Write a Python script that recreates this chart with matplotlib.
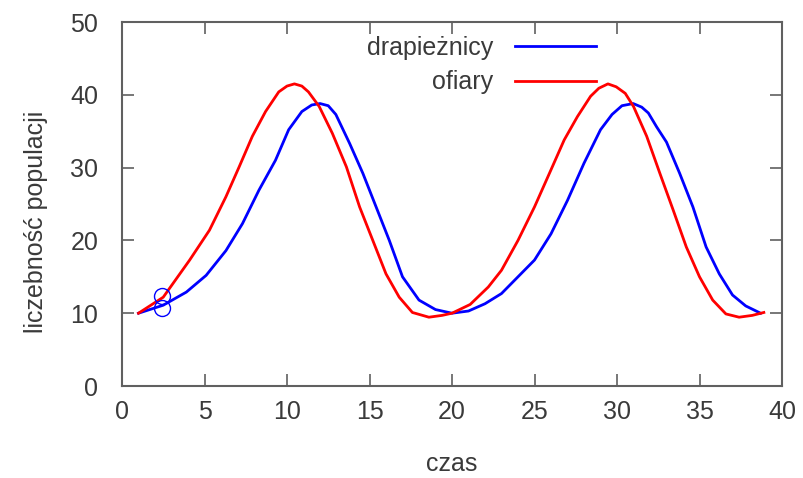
"""Predator-prey population curves (gnuplot-style look)."""

import matplotlib

matplotlib.use("Agg")
import matplotlib.pyplot as plt

# prey (ofiary)
t_prey = [1.0, 2.5, 4.1, 5.3, 6.3, 7.1, 7.9, 8.7, 9.5, 10.0, 10.45, 10.9, 11.3,
          11.95, 12.75, 13.6, 14.4, 15.2, 16.0, 16.8, 17.6, 18.6, 19.4, 20.0,
          21.1, 22.2, 23.0, 24.0, 25.0, 26.0, 26.8, 27.6, 28.4, 28.9, 29.45,
          29.95, 30.5, 31.0, 31.8, 32.6, 33.4, 34.2, 35.0, 35.8, 36.6, 37.4,
          38.2, 38.9]
prey = [10.0, 12.2, 17.3, 21.4, 26.0, 30.1, 34.3, 37.7, 40.4, 41.2, 41.5, 41.2, 40.4,
        38.4, 34.7, 30.1, 24.6, 20.0, 15.4, 12.2, 10.1, 9.45, 9.7, 10.0,
        11.2, 13.6, 15.9, 20.0, 24.6, 29.7, 33.8, 37.0, 39.8, 40.9, 41.5,
        41.1, 40.2, 38.4, 34.3, 29.2, 24.2, 19.1, 15.0, 11.8, 9.9, 9.45,
        9.7, 10.1]

# predators (drapieznicy)
t_pred = [1.0, 2.5, 3.9, 5.1, 6.3, 7.3, 8.3, 9.3, 10.1, 10.9, 11.5, 12.0, 12.5,
          12.96, 13.8, 14.6, 15.4, 16.2, 17.0, 18.0, 19.0, 20.0, 21.0, 22.0,
          23.0, 24.0, 25.0, 26.0, 27.0, 28.0, 29.0, 29.7, 30.3, 30.98, 31.5,
          31.9, 32.4, 33.0, 33.8, 34.6, 35.4, 36.2, 37.0, 37.8, 38.7]
pred = [10.0, 11.1, 12.9, 15.2, 18.6, 22.3, 26.9, 31.0, 35.2, 37.7, 38.6, 38.8, 38.5,
        37.3, 33.3, 29.2, 24.6, 20.0, 15.0, 11.8, 10.5, 10.0, 10.3, 11.3,
        12.7, 15.0, 17.3, 20.9, 25.5, 30.6, 35.2, 37.3, 38.5, 38.8, 38.3,
        37.5, 35.6, 33.5, 29.2, 24.6, 19.1, 15.4, 12.5, 11.0, 10.0]

# two marked points near the start
mark_t = [2.45, 2.45]
mark_v = [12.3, 10.7]

TEXT = "#3a3a3a"
FRAME = "#606060"

plt.rcParams["font.family"] = ["Liberation Sans", "DejaVu Sans"]
plt.rcParams["font.size"] = 18

fig = plt.figure(figsize=(8.04, 4.78), dpi=100)
ax = fig.add_axes([122 / 804, 1 - 386 / 478, 660 / 804, 364 / 478])

ax.plot(t_pred, pred, color="#0000ff", lw=2.0, label="drapieżnicy")
ax.plot(t_prey, prey, color="#ff0000", lw=2.0, label="ofiary")
ax.plot(mark_t, mark_v, ls="none", marker="o", ms=11.5, mfc="none",
        mec="#0000ff", mew=1.0)

ax.set_xlim(0, 40)
ax.set_ylim(0, 50)
ax.set_xticks(range(0, 41, 5))
ax.set_yticks(range(0, 51, 10))
ax.tick_params(direction="in", length=8.5, width=1.2, color=FRAME,
               top=True, right=True, labelcolor=TEXT, labelsize=18)
ax.tick_params(axis="y", pad=17)
ax.tick_params(axis="x", pad=10)
for s in ax.spines.values():
    s.set_color(FRAME)
    s.set_linewidth(1.5)

ax.set_xlabel("czas", color=TEXT, labelpad=20)
ax.set_ylabel("liczebność populacji", color=TEXT, labelpad=16)
ax.yaxis.label.set_y(0.45)  # gnuplot puts it a bit below centre

leg = ax.legend(loc="upper right", bbox_to_anchor=((596 - 122) / 660, 0.962),
                frameon=False, markerfirst=False, handlelength=3.24,
                handletextpad=0.88, labelspacing=0.42, borderpad=0,
                borderaxespad=0)
for txt in leg.get_texts():
    txt.set_color(TEXT)

fig.savefig("out.png", dpi=100)
